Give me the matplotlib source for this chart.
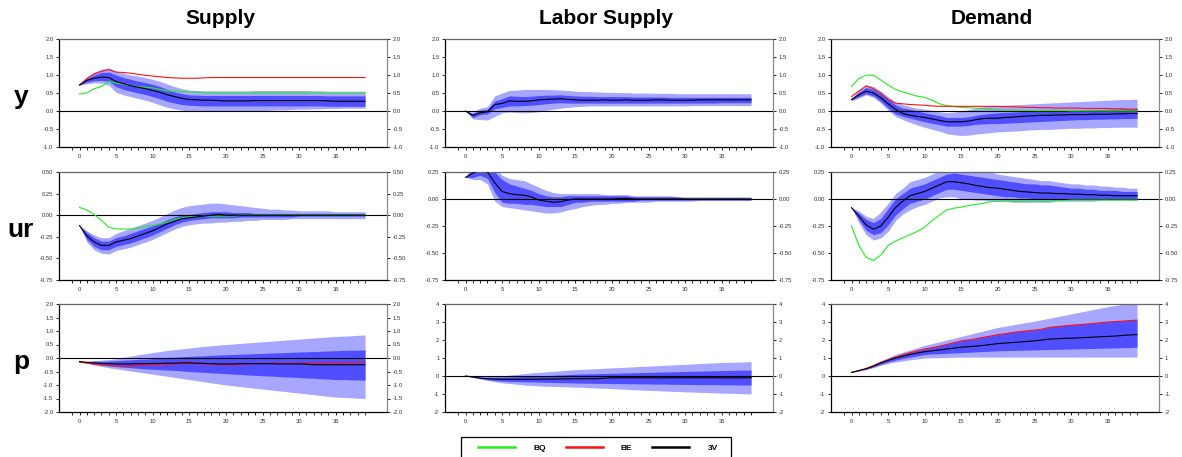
import matplotlib
matplotlib.use("Agg")
import matplotlib.pyplot as plt
from matplotlib.lines import Line2D
from matplotlib.patches import Rectangle

plt.rcParams['font.family'] = ['Liberation Sans', 'DejaVu Sans']

# horizons 0..39
h = list(range(40))

# ---------- Supply shock ----------
sy_3v = [0.72,0.85,0.91,0.94,0.93,0.82,0.76,0.70,0.66,0.62, 0.57,0.52,0.45,0.40,0.35,0.32,0.31,0.30,0.30,0.29,
         0.28,0.28,0.28,0.28,0.29,0.29,0.29,0.29,0.29,0.29, 0.29,0.29,0.29,0.29,0.28,0.27,0.27,0.27,0.27,0.27]
sy_dark_hi = [0.72,0.90,1.00,1.07,1.08,1.00,0.93,0.88,0.83,0.79, 0.74,0.68,0.60,0.53,0.48,0.45,0.44,0.43,0.43,0.43,
              0.43,0.43,0.43,0.43,0.43,0.43,0.43,0.43,0.43,0.43, 0.43,0.43,0.43,0.43,0.42,0.42,0.42,0.42,0.42,0.42]
sy_dark_lo = [0.72,0.80,0.84,0.85,0.82,0.68,0.60,0.55,0.50,0.46, 0.40,0.34,0.27,0.22,0.18,0.16,0.15,0.14,0.14,0.14,
              0.14,0.14,0.14,0.14,0.14,0.14,0.14,0.14,0.14,0.14, 0.14,0.14,0.14,0.14,0.13,0.13,0.13,0.13,0.13,0.13]
sy_light_hi = [0.72,0.95,1.08,1.16,1.20,1.10,1.05,1.00,0.97,0.93, 0.88,0.82,0.75,0.68,0.62,0.58,0.57,0.56,0.56,0.56,
               0.56,0.56,0.56,0.56,0.57,0.57,0.57,0.57,0.57,0.57, 0.57,0.57,0.56,0.56,0.55,0.55,0.55,0.55,0.55,0.55]
sy_light_lo = [0.72,0.76,0.78,0.78,0.72,0.52,0.45,0.40,0.35,0.30, 0.24,0.17,0.10,0.06,0.02,0.00,-0.01,-0.01,-0.01,-0.01,
               0.00,0.00,0.00,0.00,0.00,0.01,0.02,0.03,0.03,0.04, 0.05,0.05,0.06,0.06,0.07,0.07,0.08,0.08,0.08,0.08]
sy_be = [0.72,0.90,1.03,1.10,1.15,1.08,1.07,1.05,1.02,0.99, 0.97,0.95,0.93,0.92,0.91,0.91,0.91,0.92,0.93,0.93,
         0.93,0.93,0.93,0.93,0.93,0.93,0.93,0.93,0.93,0.93, 0.93,0.93,0.93,0.93,0.93,0.93,0.93,0.93,0.93,0.93]
sy_bq = [0.47,0.50,0.62,0.68,0.82,0.78,0.74,0.70,0.68,0.66, 0.64,0.60,0.56,0.55,0.54,0.53,0.52,0.51,0.50,0.50,
         0.50,0.50,0.50,0.50,0.50,0.50,0.50,0.50,0.50,0.50, 0.50,0.50,0.50,0.50,0.50,0.50,0.50,0.50,0.50,0.50]

su_3v = [-0.12,-0.24,-0.31,-0.35,-0.35,-0.31,-0.29,-0.27,-0.24,-0.21, -0.18,-0.14,-0.10,-0.07,-0.04,-0.03,-0.02,-0.01,0.00,0.01,
         0.00,0.00,0.00,0.00,0.00,0.00,0.00,0.00,0.00,0.00, 0.00,0.00,0.00,0.00,0.00,0.00,0.00,0.00,0.00,0.00]
su_dark_hi = [-0.12,-0.20,-0.26,-0.30,-0.30,-0.26,-0.24,-0.21,-0.18,-0.15, -0.12,-0.09,-0.05,-0.02,0.00,0.01,0.02,0.03,0.04,0.04,
              0.04,0.03,0.03,0.03,0.02,0.02,0.02,0.02,0.02,0.02, 0.02,0.02,0.02,0.02,0.02,0.02,0.02,0.02,0.02,0.02]
su_dark_lo = [-0.12,-0.28,-0.36,-0.40,-0.40,-0.36,-0.34,-0.32,-0.29,-0.26, -0.23,-0.19,-0.15,-0.11,-0.08,-0.06,-0.05,-0.04,-0.03,-0.03,
              -0.03,-0.03,-0.02,-0.02,-0.02,-0.02,-0.02,-0.02,-0.02,-0.02, -0.01,-0.01,-0.01,-0.01,-0.01,-0.01,-0.01,-0.01,-0.01,-0.01]
su_light_hi = [-0.12,-0.18,-0.23,-0.26,-0.26,-0.21,-0.18,-0.15,-0.12,-0.09, -0.06,-0.02,0.02,0.06,0.09,0.11,0.12,0.13,0.14,0.14,
               0.13,0.12,0.11,0.10,0.09,0.08,0.07,0.07,0.06,0.06, 0.05,0.05,0.05,0.05,0.05,0.04,0.04,0.04,0.04,0.04]
su_light_lo = [-0.12,-0.31,-0.40,-0.44,-0.45,-0.41,-0.39,-0.37,-0.34,-0.31, -0.28,-0.24,-0.20,-0.16,-0.13,-0.11,-0.10,-0.09,-0.09,-0.08,
               -0.08,-0.07,-0.07,-0.06,-0.06,-0.05,-0.05,-0.05,-0.05,-0.04, -0.04,-0.04,-0.04,-0.04,-0.04,-0.04,-0.04,-0.04,-0.04,-0.04]
su_bq = [0.09,0.06,0.01,-0.06,-0.14,-0.16,-0.16,-0.16,-0.15,-0.13, -0.12,-0.10,-0.08,-0.05,-0.03,-0.02,-0.02,-0.01,-0.01,-0.01,
         -0.01,-0.01,0.00,0.00,0.00,0.00,0.00,0.00,0.00,0.00, 0.00,0.00,0.00,0.00,0.00,0.00,0.00,0.00,0.00,0.00]

sp_3v = [-0.13,-0.16,-0.18,-0.20,-0.21,-0.22,-0.22,-0.22,-0.21,-0.21, -0.20,-0.20,-0.19,-0.19,-0.18,-0.18,-0.19,-0.20,-0.21,-0.22,
         -0.22,-0.22,-0.21,-0.21,-0.21,-0.21,-0.21,-0.22,-0.22,-0.22, -0.22,-0.23,-0.25,-0.25,-0.25,-0.25,-0.25,-0.25,-0.25,-0.25]
sp_be = [-0.15,-0.19,-0.23,-0.26,-0.28,-0.30,-0.30,-0.30,-0.28,-0.27, -0.25,-0.24,-0.23,-0.22,-0.21,-0.20,-0.21,-0.22,-0.23,-0.24,
         -0.25,-0.24,-0.23,-0.22,-0.21,-0.20,-0.20,-0.20,-0.20,-0.20, -0.20,-0.19,-0.19,-0.18,-0.18,-0.17,-0.17,-0.16,-0.16,-0.15]
sp_dark_hi = [-0.13,-0.13,-0.12,-0.12,-0.11,-0.10,-0.08,-0.07,-0.05,-0.04, -0.02,0.00,0.02,0.03,0.05,0.06,0.07,0.08,0.10,0.11,
              0.12,0.13,0.14,0.15,0.16,0.17,0.18,0.19,0.20,0.21, 0.22,0.23,0.24,0.25,0.26,0.27,0.28,0.29,0.29,0.30]
sp_dark_lo = [-0.13,-0.18,-0.22,-0.26,-0.29,-0.32,-0.34,-0.36,-0.38,-0.40, -0.42,-0.43,-0.45,-0.46,-0.48,-0.50,-0.52,-0.53,-0.55,-0.56,
              -0.58,-0.60,-0.61,-0.63,-0.64,-0.66,-0.67,-0.68,-0.70,-0.71, -0.72,-0.74,-0.75,-0.77,-0.78,-0.80,-0.80,-0.81,-0.81,-0.82]
sp_light_hi = [-0.13,-0.12,-0.10,-0.08,-0.06,-0.03,0.02,0.07,0.12,0.16, 0.20,0.24,0.28,0.31,0.34,0.37,0.40,0.43,0.45,0.48,
               0.50,0.52,0.54,0.56,0.58,0.60,0.62,0.64,0.66,0.68, 0.70,0.72,0.74,0.76,0.78,0.80,0.81,0.82,0.84,0.85]
sp_light_lo = [-0.13,-0.20,-0.26,-0.31,-0.36,-0.40,-0.44,-0.48,-0.52,-0.56, -0.60,-0.64,-0.68,-0.72,-0.76,-0.80,-0.84,-0.88,-0.92,-0.96,
               -1.00,-1.03,-1.06,-1.09,-1.12,-1.15,-1.18,-1.21,-1.24,-1.27, -1.30,-1.33,-1.36,-1.39,-1.42,-1.45,-1.46,-1.47,-1.49,-1.50]

# ---------- Labor supply shock ----------
ly_3v = [0.00,-0.12,-0.05,-0.02,0.18,0.21,0.28,0.27,0.27,0.28, 0.31,0.32,0.33,0.34,0.32,0.31,0.30,0.30,0.30,0.31,
         0.30,0.30,0.31,0.30,0.30,0.30,0.31,0.31,0.30,0.30, 0.30,0.30,0.31,0.31,0.31,0.31,0.31,0.31,0.31,0.31]
ly_dark_hi = [0.00,-0.07,0.02,0.05,0.28,0.34,0.42,0.41,0.40,0.41, 0.43,0.44,0.44,0.45,0.43,0.42,0.41,0.41,0.40,0.40,
              0.40,0.40,0.40,0.39,0.39,0.39,0.39,0.39,0.38,0.38, 0.38,0.38,0.38,0.38,0.38,0.38,0.38,0.38,0.38,0.38]
ly_dark_lo = [0.00,-0.18,-0.10,-0.08,0.06,0.10,0.14,0.14,0.15,0.16, 0.18,0.20,0.22,0.23,0.22,0.22,0.22,0.22,0.22,0.22,
              0.22,0.22,0.22,0.22,0.22,0.22,0.22,0.22,0.22,0.22, 0.22,0.22,0.22,0.22,0.22,0.23,0.23,0.23,0.23,0.23]
ly_light_hi = [0.00,-0.03,0.08,0.12,0.42,0.50,0.57,0.58,0.60,0.60, 0.60,0.60,0.59,0.58,0.57,0.55,0.54,0.54,0.53,0.52,
               0.52,0.51,0.51,0.50,0.50,0.50,0.49,0.49,0.49,0.48, 0.48,0.48,0.48,0.48,0.48,0.48,0.48,0.48,0.48,0.48]
ly_light_lo = [0.00,-0.22,-0.24,-0.25,-0.15,-0.05,-0.03,-0.04,-0.05,-0.04, -0.02,0.02,0.05,0.08,0.10,0.12,0.13,0.14,0.14,0.14,
               0.14,0.14,0.14,0.14,0.14,0.14,0.14,0.14,0.14,0.14, 0.14,0.15,0.15,0.15,0.15,0.15,0.15,0.15,0.15,0.15]

lu_3v = [0.20,0.24,0.27,0.25,0.15,0.07,0.05,0.04,0.035,0.02, -0.01,-0.02,-0.03,-0.025,-0.01,0.00,0.00,0.00,0.00,0.00,
         0.00,0.005,0.005,0.00,0.00,0.00,0.00,0.00,0.00,0.00, 0.00,0.00,0.00,0.00,0.00,0.00,0.00,0.00,0.00,0.00]
lu_dark_hi = [0.20,0.28,0.32,0.31,0.25,0.18,0.14,0.12,0.10,0.08, 0.05,0.03,0.02,0.02,0.03,0.03,0.03,0.03,0.03,0.03,
              0.03,0.03,0.03,0.02,0.02,0.02,0.02,0.02,0.02,0.02, 0.01,0.01,0.01,0.01,0.01,0.01,0.01,0.01,0.01,0.01]
lu_dark_lo = [0.20,0.20,0.22,0.19,0.06,-0.03,-0.04,-0.04,-0.05,-0.05, -0.06,-0.07,-0.07,-0.07,-0.05,-0.03,-0.03,-0.02,-0.02,-0.02,
              -0.02,-0.02,-0.02,-0.02,-0.01,-0.01,-0.01,-0.01,-0.01,-0.01, -0.01,-0.01,-0.01,-0.01,-0.01,-0.01,-0.01,-0.01,-0.01,-0.01]
lu_light_hi = [0.20,0.32,0.36,0.35,0.30,0.22,0.19,0.18,0.17,0.14, 0.11,0.08,0.06,0.05,0.05,0.05,0.05,0.05,0.05,0.04,
               0.04,0.04,0.04,0.03,0.03,0.03,0.03,0.03,0.03,0.02, 0.02,0.02,0.02,0.02,0.02,0.02,0.02,0.02,0.02,0.02]
lu_light_lo = [0.20,0.18,0.18,0.14,-0.02,-0.07,-0.08,-0.09,-0.10,-0.11, -0.12,-0.13,-0.13,-0.12,-0.10,-0.09,-0.07,-0.06,-0.05,-0.05,
               -0.04,-0.04,-0.03,-0.03,-0.03,-0.03,-0.02,-0.02,-0.02,-0.02, -0.02,-0.02,-0.01,-0.01,-0.01,-0.01,-0.01,-0.01,-0.01,-0.01]

lp_3v = [0.00,-0.05,-0.12,-0.15,-0.17,-0.18,-0.18,-0.18,-0.18,-0.18, -0.18,-0.17,-0.17,-0.16,-0.16,-0.15,-0.15,-0.15,-0.15,-0.12,
         -0.10,-0.10,-0.10,-0.10,-0.10,-0.10,-0.10,-0.10,-0.10,-0.10, -0.10,-0.10,-0.10,-0.10,-0.10,-0.10,-0.10,-0.10,-0.10,-0.10]
lp_dark_hi = [0.00,-0.03,-0.06,-0.07,-0.07,-0.06,-0.05,-0.04,-0.03,-0.02, 0.00,0.02,0.04,0.06,0.08,0.10,0.11,0.12,0.13,0.14,
              0.15,0.16,0.17,0.18,0.19,0.20,0.21,0.22,0.23,0.24, 0.25,0.26,0.27,0.28,0.29,0.30,0.31,0.32,0.32,0.33]
lp_dark_lo = [0.00,-0.07,-0.14,-0.20,-0.25,-0.28,-0.30,-0.31,-0.32,-0.33, -0.34,-0.35,-0.36,-0.37,-0.38,-0.39,-0.40,-0.40,-0.41,-0.41,
              -0.42,-0.42,-0.43,-0.43,-0.44,-0.44,-0.45,-0.45,-0.46,-0.46, -0.47,-0.47,-0.48,-0.48,-0.48,-0.49,-0.49,-0.50,-0.50,-0.50]
lp_light_hi = [0.00,-0.02,-0.04,-0.04,-0.03,0.00,0.05,0.09,0.13,0.17, 0.20,0.23,0.26,0.29,0.32,0.35,0.37,0.39,0.41,0.43,
               0.45,0.47,0.49,0.51,0.53,0.55,0.57,0.59,0.61,0.63, 0.65,0.67,0.69,0.71,0.73,0.75,0.76,0.77,0.78,0.80]
lp_light_lo = [0.00,-0.08,-0.17,-0.25,-0.32,-0.38,-0.42,-0.46,-0.50,-0.53, -0.55,-0.57,-0.58,-0.59,-0.60,-0.62,-0.63,-0.65,-0.67,-0.68,
               -0.70,-0.72,-0.74,-0.76,-0.78,-0.80,-0.81,-0.83,-0.85,-0.86, -0.88,-0.89,-0.91,-0.92,-0.94,-0.95,-0.96,-0.97,-0.99,-1.00]

# ---------- Demand shock ----------
dy_3v = [0.32,0.45,0.55,0.50,0.37,0.20,0.05,-0.07,-0.12,-0.15, -0.18,-0.22,-0.26,-0.30,-0.30,-0.30,-0.28,-0.24,-0.21,-0.20,
         -0.20,-0.18,-0.17,-0.15,-0.14,-0.13,-0.12,-0.12,-0.11,-0.11, -0.10,-0.10,-0.10,-0.09,-0.09,-0.09,-0.08,-0.08,-0.07,-0.07]
dy_dark_hi = [0.34,0.52,0.65,0.60,0.48,0.33,0.17,0.08,0.05,0.00, -0.05,-0.09,-0.13,-0.18,-0.18,-0.18,-0.16,-0.12,-0.09,-0.07,
              -0.05,-0.04,-0.03,-0.02,-0.01,0.00,0.00,0.01,0.01,0.02, 0.02,0.03,0.03,0.04,0.04,0.05,0.05,0.06,0.06,0.07]
dy_dark_lo = [0.30,0.40,0.48,0.42,0.27,0.08,-0.08,-0.15,-0.20,-0.25, -0.30,-0.34,-0.38,-0.42,-0.42,-0.42,-0.40,-0.37,-0.36,-0.35,
              -0.35,-0.34,-0.33,-0.32,-0.31,-0.30,-0.29,-0.28,-0.27,-0.26, -0.25,-0.24,-0.24,-0.23,-0.23,-0.22,-0.22,-0.21,-0.21,-0.20]
dy_light_hi = [0.36,0.57,0.72,0.68,0.55,0.40,0.25,0.18,0.12,0.08, 0.05,0.02,-0.02,-0.05,-0.03,0.00,0.04,0.08,0.12,0.14,
               0.15,0.16,0.17,0.18,0.19,0.20,0.21,0.22,0.23,0.24, 0.25,0.26,0.27,0.28,0.29,0.30,0.31,0.32,0.32,0.33]
dy_light_lo = [0.28,0.36,0.45,0.38,0.22,0.02,-0.15,-0.24,-0.32,-0.39, -0.45,-0.51,-0.56,-0.63,-0.66,-0.68,-0.67,-0.64,-0.62,-0.60,
               -0.58,-0.57,-0.56,-0.55,-0.53,-0.52,-0.51,-0.51,-0.50,-0.49, -0.48,-0.48,-0.47,-0.47,-0.46,-0.46,-0.45,-0.45,-0.45,-0.45]
dy_be = [0.40,0.55,0.70,0.62,0.50,0.32,0.22,0.20,0.18,0.17, 0.16,0.14,0.13,0.13,0.13,0.13,0.13,0.13,0.13,0.13,
         0.13,0.12,0.12,0.11,0.10,0.10,0.09,0.09,0.08,0.08, 0.08,0.08,0.07,0.07,0.07,0.07,0.06,0.06,0.05,0.05]
dy_bq = [0.68,0.90,1.00,0.99,0.86,0.72,0.60,0.53,0.47,0.41, 0.38,0.30,0.20,0.15,0.12,0.10,0.09,0.08,0.07,0.05,
         0.03,0.02,0.02,0.02,0.02,0.01,0.01,0.01,0.01,0.01, 0.00,0.00,0.00,0.00,0.00,0.00,0.00,0.00,0.00,0.00]

du_3v = [-0.08,-0.16,-0.24,-0.28,-0.25,-0.17,-0.08,-0.02,0.03,0.05, 0.07,0.10,0.13,0.16,0.16,0.15,0.14,0.125,0.115,0.105,
         0.10,0.09,0.08,0.07,0.065,0.06,0.055,0.055,0.05,0.05, 0.045,0.045,0.04,0.04,0.035,0.035,0.03,0.03,0.03,0.03]
du_dark_hi = [-0.08,-0.13,-0.19,-0.22,-0.18,-0.09,0.00,0.05,0.10,0.12, 0.14,0.17,0.20,0.23,0.24,0.23,0.22,0.21,0.20,0.19,
              0.18,0.17,0.16,0.15,0.14,0.14,0.13,0.13,0.12,0.11, 0.10,0.10,0.09,0.09,0.08,0.08,0.08,0.07,0.07,0.07]
du_dark_lo = [-0.08,-0.19,-0.29,-0.33,-0.31,-0.24,-0.15,-0.09,-0.04,-0.02, 0.00,0.03,0.06,0.09,0.09,0.08,0.07,0.06,0.05,0.04,
              0.03,0.02,0.02,0.01,0.01,0.00,0.00,0.00,0.00,0.00, 0.00,0.00,0.00,0.00,0.00,0.00,0.00,0.00,0.00,0.00]
du_light_hi = [-0.08,-0.11,-0.16,-0.18,-0.12,-0.04,0.05,0.10,0.16,0.18, 0.20,0.23,0.26,0.28,0.29,0.28,0.28,0.27,0.26,0.25,
               0.23,0.22,0.21,0.20,0.19,0.18,0.17,0.17,0.16,0.15, 0.14,0.14,0.13,0.13,0.12,0.12,0.11,0.11,0.10,0.10]
du_light_lo = [-0.08,-0.22,-0.33,-0.38,-0.36,-0.30,-0.20,-0.14,-0.10,-0.07, -0.05,-0.02,0.01,0.02,0.02,0.00,0.00,-0.01,-0.01,-0.02,
               -0.02,-0.02,-0.03,-0.03,-0.03,-0.03,-0.03,-0.03,-0.02,-0.02, -0.02,-0.02,-0.02,-0.02,-0.01,-0.01,-0.01,-0.01,-0.01,-0.01]
du_bq = [-0.25,-0.43,-0.54,-0.57,-0.52,-0.43,-0.39,-0.36,-0.33,-0.30, -0.26,-0.20,-0.15,-0.10,-0.085,-0.075,-0.06,-0.05,-0.04,-0.025,
         -0.02,-0.02,-0.02,-0.02,-0.02,-0.02,-0.02,-0.02,-0.015,-0.015, -0.01,-0.01,-0.01,-0.01,-0.01,-0.01,-0.01,-0.01,-0.01,-0.01]

dp_3v = [0.20,0.30,0.40,0.55,0.72,0.87,1.00,1.10,1.20,1.28, 1.35,1.40,1.45,1.50,1.55,1.60,1.63,1.66,1.70,1.75,
         1.80,1.83,1.86,1.89,1.92,1.95,2.00,2.05,2.07,2.09, 2.10,2.12,2.14,2.16,2.18,2.20,2.22,2.25,2.28,2.30]
dp_be = [0.20,0.30,0.42,0.58,0.75,0.90,1.05,1.18,1.30,1.40, 1.50,1.57,1.65,1.75,1.85,1.95,2.00,2.07,2.15,2.22,
         2.30,2.35,2.42,2.47,2.51,2.55,2.60,2.70,2.74,2.78, 2.82,2.85,2.88,2.92,2.96,3.00,3.02,3.05,3.08,3.10]
dp_dark_hi = [0.20,0.31,0.43,0.60,0.78,0.93,1.08,1.20,1.32,1.42, 1.52,1.59,1.67,1.77,1.87,1.97,2.02,2.09,2.17,2.24,
              2.32,2.37,2.44,2.49,2.53,2.57,2.62,2.72,2.76,2.80, 2.84,2.87,2.90,2.94,2.98,3.02,3.04,3.07,3.10,3.12]
dp_dark_lo = [0.20,0.29,0.38,0.50,0.65,0.78,0.88,0.97,1.05,1.12, 1.20,1.22,1.24,1.26,1.28,1.30,1.32,1.34,1.36,1.38,
              1.40,1.41,1.42,1.43,1.44,1.45,1.46,1.47,1.48,1.49, 1.50,1.51,1.52,1.53,1.54,1.55,1.56,1.57,1.58,1.60]
dp_light_hi = [0.20,0.32,0.46,0.64,0.85,1.03,1.20,1.33,1.45,1.58, 1.70,1.80,1.90,2.00,2.10,2.20,2.30,2.40,2.50,2.60,
               2.70,2.77,2.84,2.91,2.98,3.05,3.13,3.21,3.29,3.37, 3.45,3.53,3.61,3.69,3.77,3.85,3.92,3.98,4.00,4.00]
dp_light_lo = [0.20,0.28,0.36,0.47,0.60,0.70,0.78,0.84,0.90,0.95, 1.00,1.01,1.02,1.03,1.04,1.05,1.05,1.05,1.05,1.05,
               1.05,1.05,1.05,1.05,1.05,1.05,1.05,1.05,1.05,1.05, 1.05,1.05,1.05,1.05,1.05,1.05,1.05,1.05,1.05,1.05]

col_titles = ['Supply', 'Labor Supply', 'Demand']
row_labels = ['y', 'ur', 'p']
legend_labels = ['BQ', 'BE', '3V']

LIGHT = '#a7a7ff'
DARK = '#4f4fff'
GREEN = '#22ee22'
RED = '#ff1010'

W, H = 1182, 457
fig = plt.figure(figsize=(W / 100, H / 100), dpi=100)

col_left = [59, 445, 831]
col_w = 328
row_top = [39, 172, 304]
row_h = 108


def panel(ax, lo2, hi2, lo1, hi1, v3, ylim, yticks, fmt, bq=None, be=None):
    ax.fill_between(h, lo2, hi2, color=LIGHT, lw=0)
    ax.fill_between(h, lo1, hi1, color=DARK, lw=0)
    ax.axhline(0, color='black', lw=0.8, zorder=2)
    if bq is not None:
        ax.plot(h, bq, color=GREEN, lw=0.8, zorder=3)
    if be is not None:
        ax.plot(h, be, color=RED, lw=0.8, zorder=3)
    ax.plot(h, v3, color='black', lw=0.8, zorder=4)
    ax.set_xlim(-2.8, 42)
    ax.set_ylim(*ylim)
    ax.set_yticks(yticks)
    ax.set_yticklabels([fmt.format(t) for t in yticks])
    ax.set_xticks(range(0, 40, 5))
    ax.set_xticks(range(-1, 40), minor=True)
    ax.tick_params(axis='both', which='both', direction='out', length=2, width=0.6,
                   labelsize=4.2, labelcolor='#333333', pad=2)
    ax.tick_params(axis='y', right=True, labelright=True)
    ax.tick_params(axis='x', pad=3)
    ax.spines['left'].set_color('black')
    ax.spines['bottom'].set_color('black')
    ax.spines['top'].set_color('#666666')
    ax.spines['right'].set_color('#888888')
    for s in ax.spines.values():
        s.set_linewidth(0.9)


axes = []
for r in range(3):
    row = []
    for c in range(3):
        ax = fig.add_axes([col_left[c] / W, 1 - (row_top[r] + row_h) / H, col_w / W, row_h / H])
        row.append(ax)
    axes.append(row)

t1 = [-1.0, -0.5, 0.0, 0.5, 1.0, 1.5, 2.0]
t2a = [-0.75, -0.5, -0.25, 0.0, 0.25, 0.5]
t2b = [-0.75, -0.5, -0.25, 0.0, 0.25]
t3a = [-2.0, -1.5, -1.0, -0.5, 0.0, 0.5, 1.0, 1.5, 2.0]
t3b = [-2, -1, 0, 1, 2, 3, 4]

panel(axes[0][0], sy_light_lo, sy_light_hi, sy_dark_lo, sy_dark_hi, sy_3v, (-1, 2), t1, '{:.1f}', bq=sy_bq, be=sy_be)
panel(axes[1][0], su_light_lo, su_light_hi, su_dark_lo, su_dark_hi, su_3v, (-0.75, 0.5), t2a, '{:.2f}', bq=su_bq)
panel(axes[2][0], sp_light_lo, sp_light_hi, sp_dark_lo, sp_dark_hi, sp_3v, (-2, 2), t3a, '{:.1f}', be=sp_be)

panel(axes[0][1], ly_light_lo, ly_light_hi, ly_dark_lo, ly_dark_hi, ly_3v, (-1, 2), t1, '{:.1f}')
panel(axes[1][1], lu_light_lo, lu_light_hi, lu_dark_lo, lu_dark_hi, lu_3v, (-0.75, 0.25), t2b, '{:.2f}')
panel(axes[2][1], lp_light_lo, lp_light_hi, lp_dark_lo, lp_dark_hi, lp_3v, (-2, 4), t3b, '{:.0f}')

panel(axes[0][2], dy_light_lo, dy_light_hi, dy_dark_lo, dy_dark_hi, dy_3v, (-1, 2), t1, '{:.1f}', bq=dy_bq, be=dy_be)
panel(axes[1][2], du_light_lo, du_light_hi, du_dark_lo, du_dark_hi, du_3v, (-0.75, 0.25), t2b, '{:.2f}', bq=du_bq)
panel(axes[2][2], dp_light_lo, dp_light_hi, dp_dark_lo, dp_dark_hi, dp_3v, (-2, 4), t3b, '{:.0f}', be=dp_be)

for c, title in enumerate(col_titles):
    fig.text((col_left[c] + col_w / 2 - 3) / W, 1 - 18 / H, title, ha='center', va='center',
             fontsize=15, fontweight='bold')

for r, lab in enumerate(row_labels):
    fig.text(21 / W, 1 - (row_top[r] + row_h / 2 + 4) / H, lab, ha='center', va='center',
             fontsize=19, fontweight='bold')

# legend: frame drawn as a box reaching below the figure edge
handles = [Line2D([], [], color=GREEN, lw=1.8),
           Line2D([], [], color=RED, lw=1.8),
           Line2D([], [], color='black', lw=1.8)]
leg = fig.legend(handles, legend_labels, loc='center', bbox_to_anchor=(598 / W, 1 - 448 / H),
                 ncol=3, frameon=False,
                 prop={'size': 6, 'weight': 'bold'}, handlelength=4.4, handletextpad=2.2,
                 columnspacing=2.4)
fig.patches.append(Rectangle((461 / W, -0.05), 270 / W, 0.05 + 20 / H, transform=fig.transFigure,
                             fill=False, edgecolor='black', lw=0.9))

fig.savefig('out.png', dpi=100)
